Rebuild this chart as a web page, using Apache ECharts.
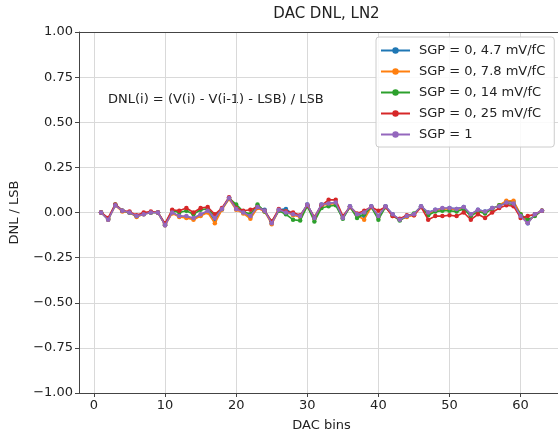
<!DOCTYPE html>
<html>
<head>
<meta charset="utf-8">
<script src="https://cdn.jsdelivr.net/npm/echarts@6/dist/echarts.min.js"></script>
<style>
  html, body { margin: 0; padding: 0; background: #fff; overflow: hidden; }
  #chart { width: 558px; height: 434px; }
</style>
</head>
<body>
<div id="chart"></div>
<script>
// DAC bin numbers (1..63)
const bins = [1,2,3,4,5,6,7,8,9,10,11,12,13,14,15,16,17,18,19,20,21,22,23,24,25,26,27,28,29,30,31,32,33,34,35,36,37,38,39,40,41,42,43,44,45,46,47,48,49,50,51,52,53,54,55,56,57,58,59,60,61,62,63];

// Differential non-linearity per bin, in LSB
const dnl_4p7 = [0.00,-0.04,0.04,0.01,0.00,-0.02,-0.01,0.00,0.00,-0.07,0.00,-0.02,-0.025,-0.035,-0.015,0.005,-0.045,0.02,0.08,0.02,0.00,-0.025,0.03,0.015,-0.06,0.015,0.02,-0.01,-0.02,0.045,-0.03,0.045,0.05,0.055,-0.03,0.035,-0.01,-0.02,0.035,-0.02,0.035,-0.01,-0.04,-0.02,-0.01,0.035,0.00,0.015,0.02,0.025,0.02,0.03,-0.01,0.015,0.005,0.025,0.035,0.06,0.06,-0.015,-0.06,-0.01,0.01];
const dnl_7p8 = [0.00,-0.04,0.04,0.005,0.00,-0.025,-0.01,0.00,0.00,-0.07,-0.005,-0.025,-0.03,-0.04,-0.02,0.00,-0.06,0.015,0.075,0.015,-0.005,-0.035,0.025,0.005,-0.065,0.01,0.005,-0.015,-0.025,0.04,-0.035,0.04,0.045,0.05,-0.03,0.03,-0.015,-0.04,0.03,-0.025,0.03,-0.02,-0.04,-0.025,-0.015,0.03,-0.005,0.01,0.02,0.02,0.015,0.025,-0.015,0.01,0.00,0.02,0.04,0.065,0.065,-0.01,-0.055,-0.015,0.01];
const dnl_14 = [0.00,-0.035,0.045,0.01,0.00,-0.02,-0.005,0.00,0.00,-0.065,0.01,0.00,0.01,-0.01,0.015,0.02,-0.02,0.02,0.08,0.045,0.005,-0.01,0.045,0.005,-0.05,0.01,-0.01,-0.04,-0.045,0.035,-0.05,0.025,0.035,0.04,-0.035,0.03,-0.03,-0.01,0.03,-0.04,0.03,-0.015,-0.045,-0.02,-0.005,0.03,-0.015,0.005,0.01,0.01,0.005,0.02,-0.02,0.005,-0.005,0.02,0.04,0.05,0.045,-0.01,-0.04,-0.02,0.01];
const dnl_25 = [0.00,-0.03,0.045,0.01,0.005,-0.015,0.00,0.005,0.00,-0.06,0.015,0.01,0.025,0.00,0.025,0.03,-0.01,0.025,0.085,0.025,0.01,0.015,0.03,0.01,-0.05,0.02,0.005,0.00,-0.015,0.04,-0.025,0.04,0.07,0.07,-0.02,0.03,-0.005,0.01,0.03,0.01,0.03,-0.02,-0.035,-0.015,-0.015,0.03,-0.04,-0.02,-0.02,-0.015,-0.02,0.00,-0.04,-0.01,-0.03,0.00,0.025,0.04,0.035,-0.03,-0.02,-0.01,0.01];
const dnl_sgp1 = [0.00,-0.04,0.04,0.01,0.00,-0.02,-0.01,0.00,0.00,-0.07,0.00,-0.02,-0.02,-0.03,-0.01,0.01,-0.03,0.02,0.08,0.02,0.00,-0.02,0.03,0.01,-0.06,0.015,0.00,-0.01,-0.02,0.045,-0.03,0.045,0.05,0.055,-0.03,0.035,-0.01,0.00,0.035,-0.02,0.035,-0.01,-0.04,-0.02,-0.01,0.035,0.00,0.015,0.025,0.025,0.02,0.03,-0.01,0.015,0.005,0.025,0.035,0.055,0.05,-0.02,-0.06,-0.01,0.01];

const seriesNames = ['SGP = 0, 4.7 mV/fC', 'SGP = 0, 7.8 mV/fC', 'SGP = 0, 14 mV/fC', 'SGP = 0, 25 mV/fC', 'SGP = 1'];
const seriesValues = [dnl_4p7, dnl_7p8, dnl_14, dnl_25, dnl_sgp1];
const seriesColors = ['#1f77b4', '#ff7f0e', '#2ca02c', '#d62728', '#9467bd'];

const xTicks = [0, 10, 20, 30, 40, 50, 60];

const FONT = 'DejaVu Sans';
const SPINE = '#444';
const fmtY = v => (v < 0 ? '\u2212' : '') + Math.abs(v).toFixed(2);

const chart = echarts.init(document.getElementById('chart'), null, { renderer: 'canvas' });

chart.setOption({
  animation: false,
  backgroundColor: '#fff',
  title: {
    text: 'DAC DNL, LN2',
    left: 321.5,
    top: 2,
    textAlign: 'center',
    textStyle: { fontFamily: FONT, fontSize: 15, fontWeight: 'normal', color: '#222' }
  },
  // the axes box runs a little past the right edge of the canvas
  grid: {
    left: 79, top: 32, width: 485, height: 361,
    outerBoundsMode: 'none',
    show: false
  },
  legend: {
    orient: 'vertical',
    left: 376,
    top: 37,
    data: seriesNames,
    itemWidth: 29,
    itemHeight: 8,
    itemGap: 6,
    padding: [6, 9, 5, 4],
    backgroundColor: 'rgba(255,255,255,0.85)',
    borderColor: '#cccccc',
    borderWidth: 1,
    borderRadius: 3,
    textStyle: { fontFamily: FONT, fontSize: 13, color: '#222', lineHeight: 15, padding: [0, 0, 0, 4] }
  },
  xAxis: [{
    type: 'value',
    min: -2.1,
    max: 66.1,
    name: 'DAC bins',
    nameLocation: 'middle',
    nameGap: 26,
    nameTextStyle: { fontFamily: FONT, fontSize: 13, color: '#222' },
    axisLine: { show: true, onZero: false, lineStyle: { color: SPINE, width: 1 } },
    axisTick: { show: true, customValues: xTicks, length: 4, lineStyle: { color: SPINE } },
    axisLabel: { customValues: xTicks, fontFamily: FONT, fontSize: 13, color: '#222', margin: 6 },
    splitLine: { show: true, lineStyle: { color: '#d9d9d9', width: 1 } }
  }, {
    // top spine only
    type: 'value',
    position: 'top',
    min: -2.1,
    max: 66.1,
    axisLine: { show: true, onZero: false, lineStyle: { color: SPINE, width: 1 } },
    axisTick: { show: false },
    axisLabel: { show: false },
    splitLine: { show: false }
  }],
  yAxis: {
    type: 'value',
    min: -1,
    max: 1,
    interval: 0.25,
    name: 'DNL / LSB',
    nameLocation: 'middle',
    nameGap: 58,
    nameTextStyle: { fontFamily: FONT, fontSize: 13, color: '#222' },
    axisLine: { show: true, onZero: false, lineStyle: { color: SPINE, width: 1 } },
    axisTick: { show: true, length: 4, lineStyle: { color: SPINE } },
    axisLabel: { formatter: fmtY, fontFamily: FONT, fontSize: 13, color: '#222', margin: 6 },
    splitLine: { show: true, lineStyle: { color: '#d9d9d9', width: 1 } }
  },
  graphic: [{
    type: 'text',
    left: 108,
    top: 93,
    style: {
      text: 'DNL(i) = (V(i) - V(i-1) - LSB) / LSB',
      font: '13px "DejaVu Sans"',
      fill: '#222'
    }
  }],
  series: seriesNames.map((name, k) => ({
    name,
    type: 'line',
    xAxisIndex: 0,
    data: bins.map((b, i) => [b, seriesValues[k][i]]),
    symbol: 'circle',
    symbolSize: 4.5,
    showSymbol: true,
    lineStyle: { width: 1.6, color: seriesColors[k] },
    itemStyle: { color: seriesColors[k] },
    z: 2 + k
  }))
});
</script>
</body>
</html>
